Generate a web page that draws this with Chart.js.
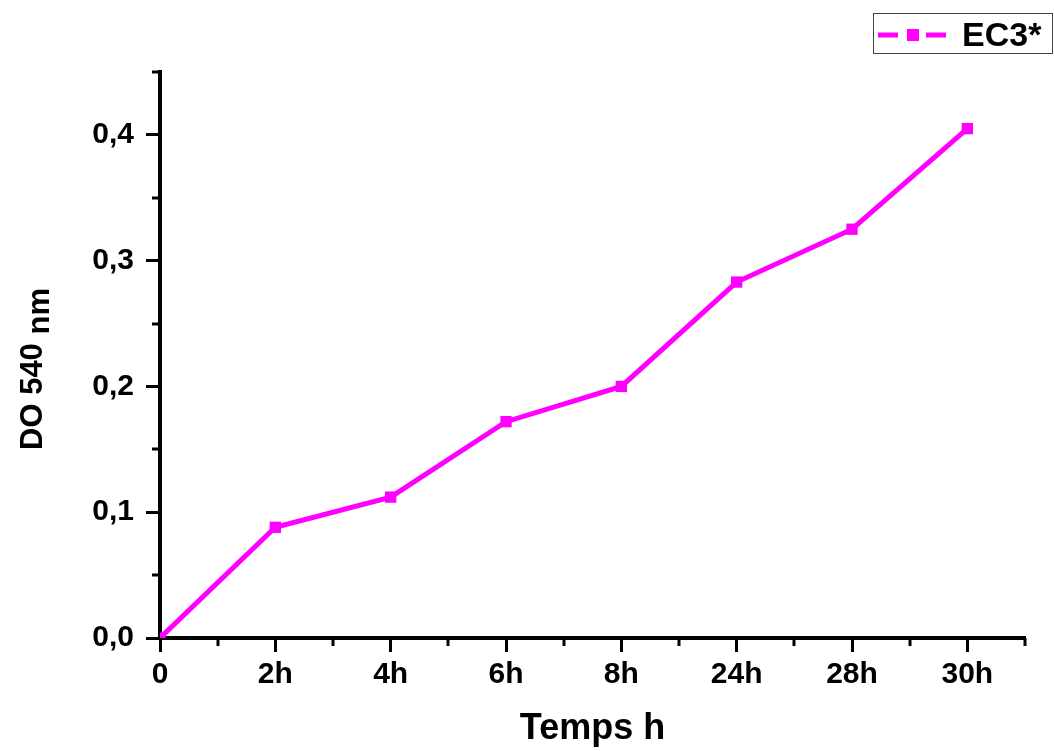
<!DOCTYPE html>
<html>
<head>
<meta charset="utf-8">
<title>DO 540 nm - EC3*</title>
<script src="https://cdn.jsdelivr.net/npm/chart.js@4.4.1/dist/chart.umd.min.js"></script>
<style>
  html, body { margin: 0; padding: 0; background: #fff; }
  .container { width: 1054px; height: 751px; position: relative; }
</style>
</head>
<body>
<div class="container">
  <canvas id="doChart" width="1054" height="751"></canvas>
</div>
<script>
// Growth of EC3* : optical density at 540 nm over time
const timeLabels = ['0', '2h', '4h', '6h', '8h', '24h', '28h', '30h'];
const doValues = [0, 0.088, 0.112, 0.172, 0.200, 0.283, 0.325, 0.405];
const yTicks = [0, 0.1, 0.2, 0.3, 0.4];
const yTickLabels = ['0,0', '0,1', '0,2', '0,3', '0,4'];
const xMinorTicks = [0.5, 1.5, 2.5, 3.5, 4.5, 5.5, 6.5, 7.5];
const yMinorTicks = [0.05, 0.15, 0.25, 0.35, 0.45];

const MAGENTA = '#ff00ff';
const FONT = '"Liberation Sans", Arial, sans-serif';

Chart.defaults.font.family = FONT;
Chart.defaults.color = '#000';

const points = doValues.map((v, i) => ({ x: i, y: v }));

// short minor ticks (Origin style) and the subscripted y title
const extrasPlugin = {
  id: 'extras',
  afterDraw(chart) {
    const ctx = chart.ctx;
    const xs = chart.scales.x, ys = chart.scales.y;
    const area = chart.chartArea;
    ctx.save();
    ctx.strokeStyle = '#000';
    ctx.lineWidth = 3;
    ctx.beginPath();
    xMinorTicks.forEach(t => {
      const px = Math.round(xs.getPixelForValue(t));
      ctx.moveTo(px, area.bottom);
      ctx.lineTo(px, area.bottom + 8);
    });
    yMinorTicks.forEach(t => {
      const py = Math.round(ys.getPixelForValue(t));
      ctx.moveTo(area.left, py);
      ctx.lineTo(area.left - 8, py);
    });
    ctx.stroke();

    // y title: DO 540 with "nm" as subscript
    ctx.font = 'bold 31px ' + FONT;
    ctx.fillStyle = '#000';
    ctx.textBaseline = 'alphabetic';
    ctx.textAlign = 'left';
    const main = 'DO 540 ', sub = 'nm';
    const w1 = ctx.measureText(main).width, w2 = ctx.measureText(sub).width;
    ctx.translate(42, 369);
    ctx.rotate(-Math.PI / 2);
    const start = -(w1 + w2) / 2;
    ctx.fillText(main, start, 0);
    ctx.fillText(sub, start + w1, 7);
    ctx.restore();

    // legend box in the top right corner
    const ds = chart.data.datasets[0];
    ctx.save();
    ctx.strokeStyle = '#444';
    ctx.lineWidth = 1;
    ctx.strokeRect(873.5, 13.5, 179, 40);
    ctx.strokeStyle = ds.borderColor;
    ctx.lineWidth = 5;
    ctx.beginPath();
    ctx.moveTo(878, 35); ctx.lineTo(898, 35);
    ctx.moveTo(926, 35); ctx.lineTo(946, 35);
    ctx.stroke();
    ctx.fillStyle = ds.borderColor;
    ctx.fillRect(907, 29, 12, 12);
    ctx.fillStyle = '#000';
    ctx.font = 'bold 34px ' + FONT;
    ctx.textBaseline = 'alphabetic';
    ctx.fillText(ds.label, 962, 46);
    ctx.restore();
  }
};

new Chart(document.getElementById('doChart').getContext('2d'), {
  type: 'line',
  data: {
    datasets: [{
      label: 'EC3*',
      data: points,
      borderColor: MAGENTA,
      backgroundColor: MAGENTA,
      borderWidth: 5,
      pointStyle: 'rect',
      pointRadius: 8,
      pointBorderWidth: 0,
      pointBackgroundColor: MAGENTA,
      tension: 0
    }]
  },
  options: {
    responsive: false,
    animation: false,
    devicePixelRatio: 1,
    layout: { padding: { top: 72, right: 29, left: 0, bottom: 0 } },
    plugins: {
      legend: { display: false },
      tooltip: { enabled: false }
    },
    scales: {
      x: {
        type: 'linear',
        min: 0,
        max: 7.5,
        afterFit(scale) { scale.height = 113; },
        afterBuildTicks(scale) { scale.ticks = timeLabels.map((_, i) => ({ value: i })); },
        border: { display: true, color: '#000', width: 4 },
        grid: { drawOnChartArea: false, drawTicks: true, tickLength: 14, tickWidth: 3, tickColor: '#000' },
        ticks: {
          padding: 5,
          maxRotation: 0,
          font: { size: 30, weight: 'bold' },
          callback: v => timeLabels[v] ?? ''
        },
        title: {
          display: true,
          text: 'Temps h',
          font: { size: 36, weight: 'bold' },
          padding: { top: 0, bottom: 0 }
        }
      },
      y: {
        min: 0,
        max: 0.45,
        afterFit(scale) { scale.width = 160; },
        afterBuildTicks(scale) { scale.ticks = yTicks.map(v => ({ value: v })); },
        border: { display: true, color: '#000', width: 4 },
        grid: { drawOnChartArea: false, drawTicks: true, tickLength: 14, tickWidth: 3, tickColor: '#000' },
        ticks: {
          padding: 12,
          font: { size: 30, weight: 'bold' },
          callback: v => yTickLabels[yTicks.findIndex(t => Math.abs(t - v) < 1e-9)] ?? ''
        }
      }
    }
  },
  plugins: [extrasPlugin]
});
</script>
</body>
</html>
